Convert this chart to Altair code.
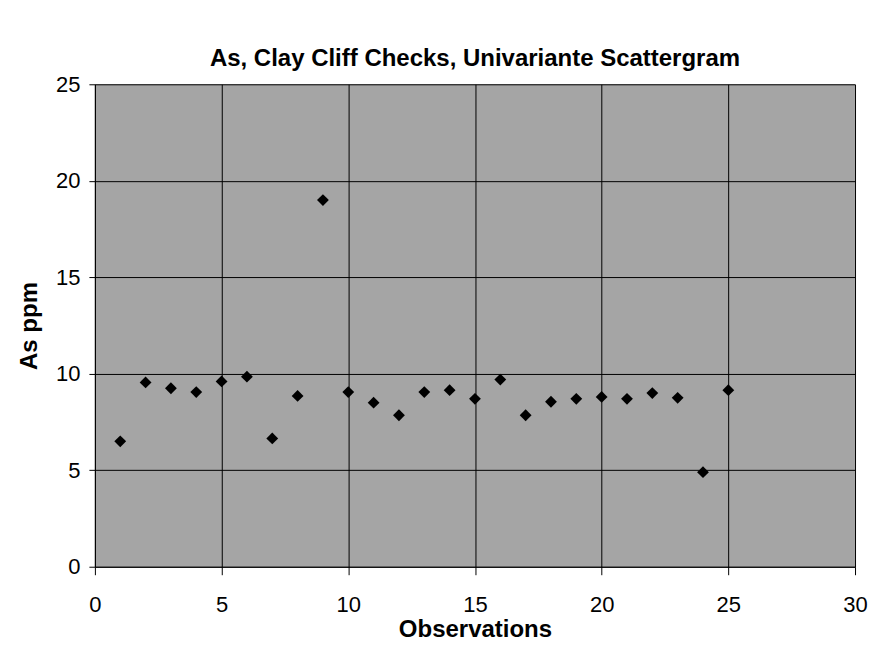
import altair as alt
import pandas as pd

observations = list(range(1, 26))
as_ppm = [6.5, 9.55, 9.25, 9.05, 9.6, 9.85, 6.65, 8.85, 19.0, 9.05,
          8.5, 7.85, 9.05, 9.15, 8.7, 9.7, 7.85, 8.55, 8.7, 8.8,
          8.7, 9.0, 8.75, 4.9, 9.15]

df = pd.DataFrame({"Observations": observations, "As ppm": as_ppm})

FONT = "Liberation Sans"

chart = alt.Chart(df).mark_point(
    shape="diamond", filled=True, color="black", size=140, opacity=1
).encode(
    x=alt.X("Observations:Q",
            scale=alt.Scale(domain=[0, 30], nice=False, zero=True),
            axis=alt.Axis(values=[0, 5, 10, 15, 20, 25, 30], title="Observations",
                          tickSize=8, labelPadding=20, titlePadding=2,
                          labelFontSize=22, titleFontSize=24, labelFont=FONT, titleFont=FONT,
                          labelColor="black", titleColor="black", titleFontWeight="bold",
                          domainColor="black", tickColor="black", gridColor="black",
                          gridWidth=1, labelFlush=False)),
    y=alt.Y("As ppm:Q",
            scale=alt.Scale(domain=[0, 25], nice=False),
            axis=alt.Axis(values=[0, 5, 10, 15, 20, 25], title="As ppm",
                          tickSize=6, labelPadding=9, titlePadding=14,
                          labelFontSize=22, titleFontSize=24, labelFont=FONT, titleFont=FONT,
                          labelColor="black", titleColor="black", titleFontWeight="bold",
                          domainColor="black", tickColor="black", gridColor="black",
                          gridWidth=1, labelFlush=False)),
).properties(
    width=761,
    height=483,
    background="white",
    title=alt.TitleParams("As, Clay Cliff Checks, Univariante Scattergram",
                          font=FONT, fontSize=24, fontWeight="bold", color="black",
                          anchor="middle", offset=2),
    autosize=alt.AutoSizeParams(type="none"),
    padding={"left": 87, "top": 76, "right": 14, "bottom": 80},
).configure_view(
    fill="#a5a5a5", stroke=None
)

chart.save("out.html", embed_options={"renderer": "svg", "actions": False})
